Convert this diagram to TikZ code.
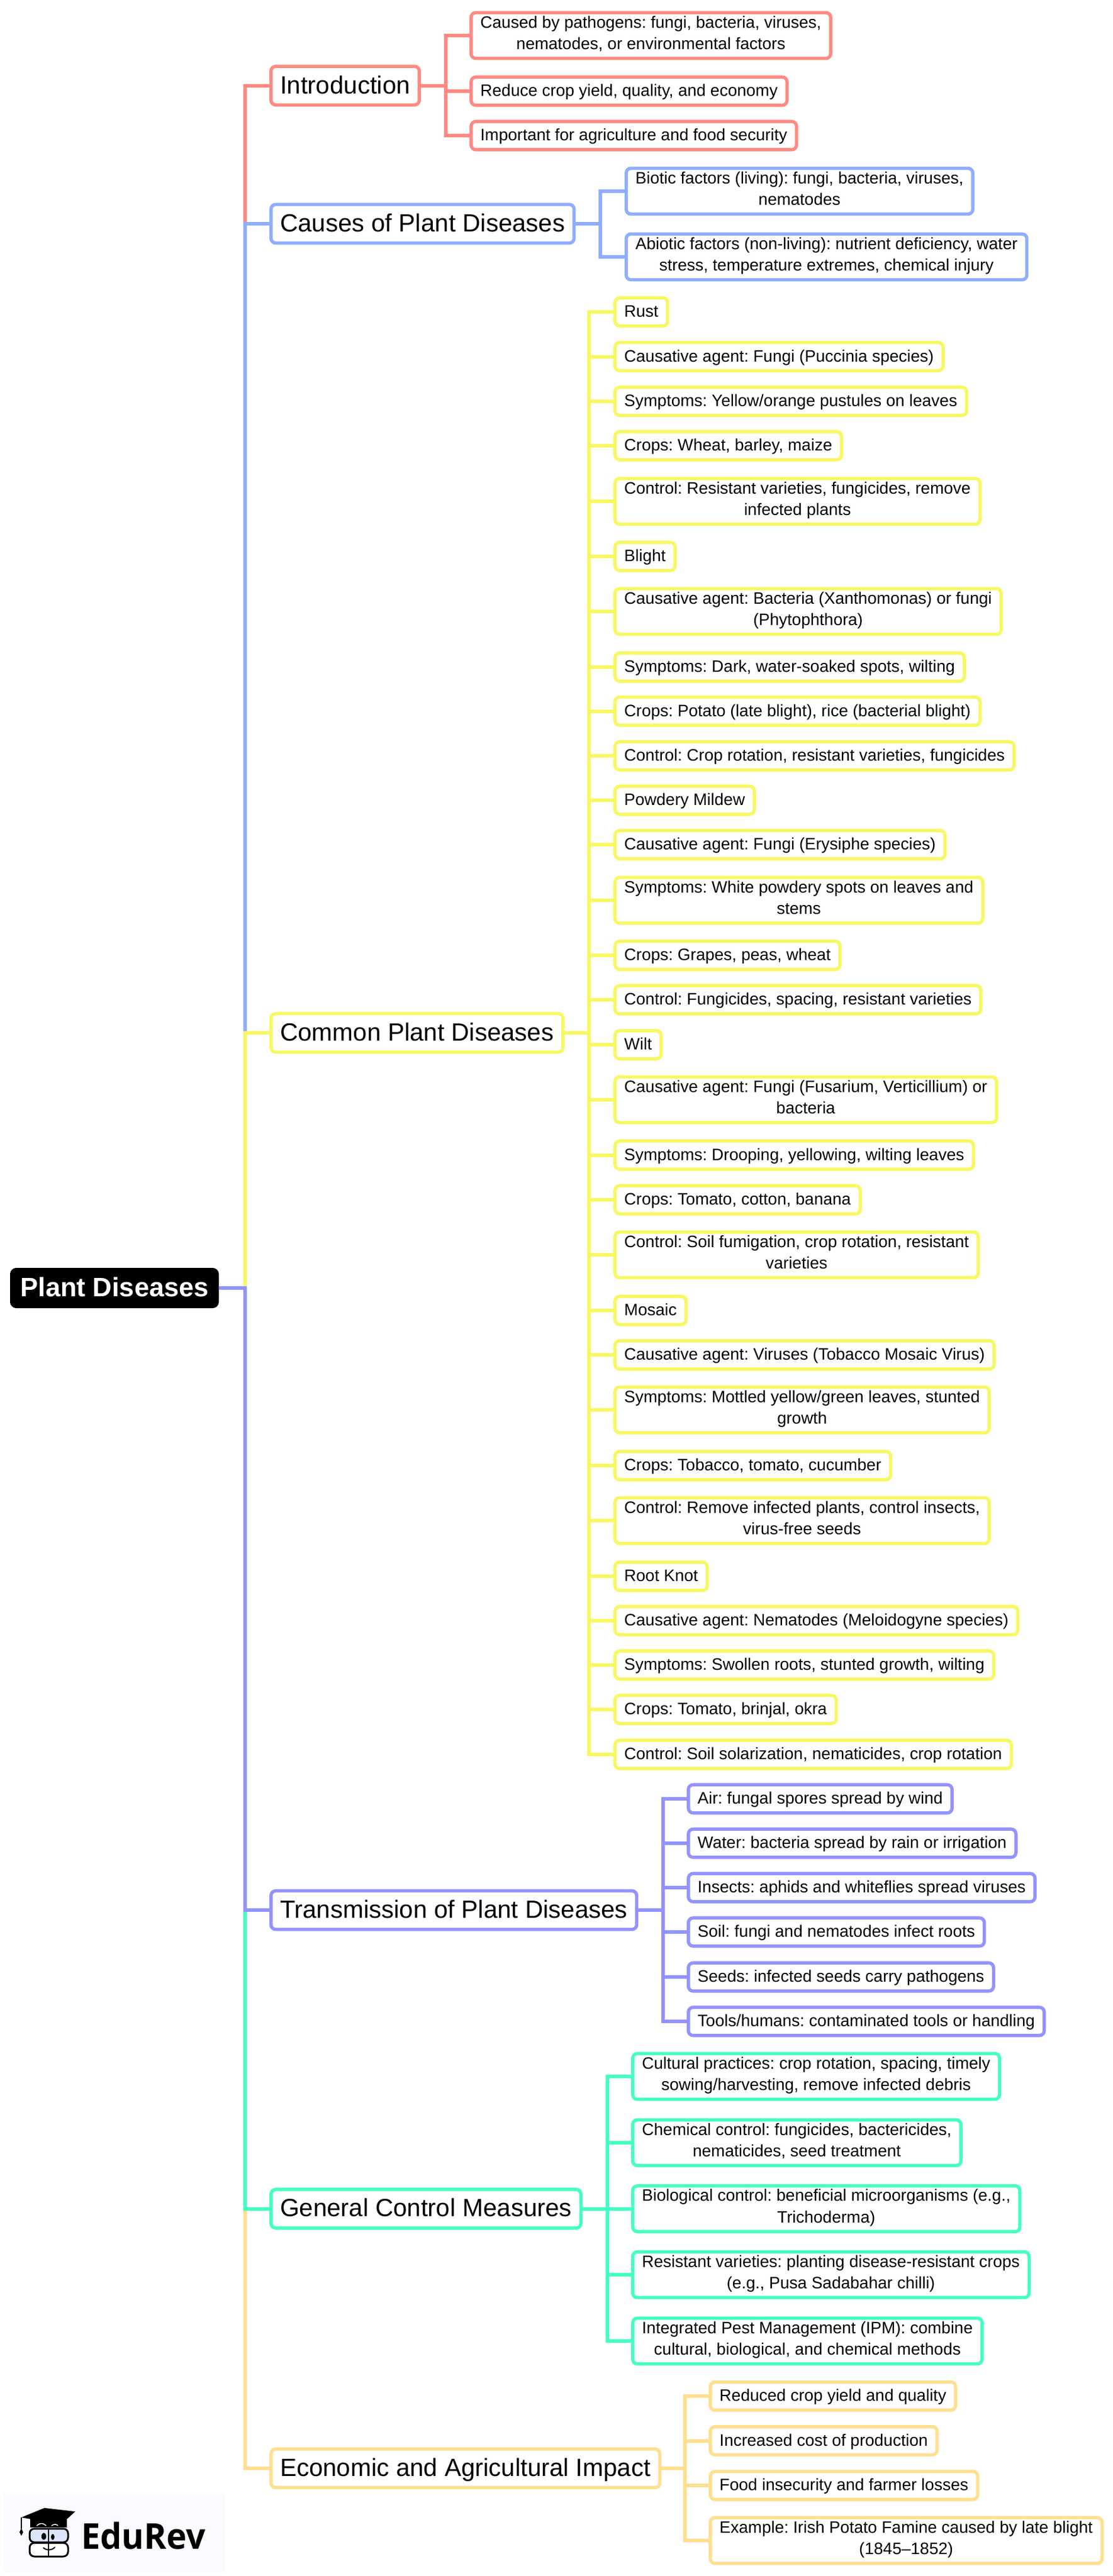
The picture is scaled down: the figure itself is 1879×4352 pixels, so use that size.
\documentclass[tikz,border=0pt]{standalone}
\usepackage{fontspec}
\setmainfont{Liberation Sans}
\newfontfamily\logofont{Open Sans}
\frenchspacing
\definecolor{redline}{HTML}{FF8A82}
\definecolor{blueline}{HTML}{8FAEFF}
\definecolor{yellowline}{HTML}{F8F862}
\definecolor{purpleline}{HTML}{9393FF}
\definecolor{tealline}{HTML}{44FFC4}
\definecolor{orangeline}{HTML}{FFDF90}
\definecolor{logoback}{HTML}{FAFAFF}
\definecolor{logoglass}{HTML}{DCE6FA}
\newcommand{\rootstrut}{\rule[-10.3pt]{0pt}{50pt}}
\newcommand{\topicstrut}{\rule[-11.7pt]{0pt}{50pt}}
\newcommand{\leafstrut}{\rule[-9.5pt]{0pt}{36.4pt}}
\tikzset{
    rootbox/.style={draw=black, fill=black, text=white, line width=1pt, rounded corners=10pt,
        anchor=west, align=center, inner xsep=17pt, inner ysep=8.5pt,
        font=\fontsize{45}{50}\selectfont\bfseries,
        execute at begin node=\rootstrut, execute at end node=\rootstrut},
    topicbox/.style={draw=#1, fill=white, line width=5.5pt, rounded corners=8pt,
        anchor=west, align=center, inner xsep=15.5pt, inner ysep=7.6pt,
        font=\fontsize{42}{50}\selectfont,
        execute at begin node=\topicstrut, execute at end node=\topicstrut},
    leafbox/.style={draw=#1, fill=white, line width=5.5pt, rounded corners=8pt,
        anchor=west, align=center, inner xsep=15.7pt, inner ysep=5.6pt,
        font=\fontsize{28}{36.4}\selectfont,
        execute at begin node=\leafstrut, execute at end node=\leafstrut},
    branch/.style={draw=#1, line width=6pt}
}
\begin{document}
\begin{tikzpicture}[x=1pt, y=-1pt]
    \useasboundingbox (0,0) rectangle (1879,4352);

    % root and main topics
    \node[rootbox] (root) at (17,2176) {Plant Diseases};
    \node[topicbox=redline] (intro) at (455,144.7) {Introduction};
    \node[topicbox=blueline] (causes) at (455,378) {Causes of Plant Diseases};
    \node[topicbox=yellowline] (common) at (455,1745) {Common Plant Diseases};
    \node[topicbox=purpleline] (transmission) at (455,3227) {Transmission of Plant Diseases};
    \node[topicbox=tealline] (control) at (455,3731.5) {General Control Measures};
    \node[topicbox=orangeline] (impact) at (455,4170) {Economic and Agricultural Impact};

    \coordinate (rootbus) at (414,2176);
    \coordinate (introbus) at (752.5,144.7);
    \coordinate (causesbus) at (1014,378);
    \coordinate (commonbus) at (995,1745);
    \coordinate (transmissionbus) at (1120,3227);
    \coordinate (controlbus) at (1026,3731.5);
    \coordinate (impactbus) at (1157,4170);

    % Introduction
    \node[leafbox=redline] (intro1) at (793,60) {Caused by pathogens: fungi, bacteria, viruses,\\nematodes, or environmental factors};
    \node[leafbox=redline] (intro2) at (793,154) {Reduce crop yield, quality, and economy};
    \node[leafbox=redline] (intro3) at (793,229) {Important for agriculture and food security};

    % Causes
    \node[leafbox=blueline] (causes1) at (1055,323) {Biotic factors (living): fungi, bacteria, viruses,\\nematodes};
    \node[leafbox=blueline] (causes2) at (1055,434) {Abiotic factors (non-living): nutrient deficiency, water\\stress, temperature extremes, chemical injury};

    % Common diseases
    \node[leafbox=yellowline] (common1) at (1036,527) {Rust};
    \node[leafbox=yellowline] (common2) at (1036,602.5) {Causative agent: Fungi (Puccinia species)};
    \node[leafbox=yellowline] (common3) at (1036,678) {Symptoms: Yellow/orange pustules on leaves};
    \node[leafbox=yellowline] (common4) at (1036,753) {Crops: Wheat, barley, maize};
    \node[leafbox=yellowline] (common5) at (1036,847) {Control: Resistant varieties, fungicides, remove\\infected plants};
    \node[leafbox=yellowline] (common6) at (1036,940) {Blight};
    \node[leafbox=yellowline] (common7) at (1036,1033) {Causative agent: Bacteria (Xanthomonas) or fungi\\(Phytophthora)};
    \node[leafbox=yellowline] (common8) at (1036,1127) {Symptoms: Dark, water-soaked spots, wilting};
    \node[leafbox=yellowline] (common9) at (1036,1201.5) {Crops: Potato (late blight), rice (bacterial blight)};
    \node[leafbox=yellowline] (common10) at (1036,1277) {Control: Crop rotation, resistant varieties, fungicides};
    \node[leafbox=yellowline] (common11) at (1036,1352) {Powdery Mildew};
    \node[leafbox=yellowline] (common12) at (1036,1427) {Causative agent: Fungi (Erysiphe species)};
    \node[leafbox=yellowline] (common13) at (1036,1521) {Symptoms: White powdery spots on leaves and\\stems};
    \node[leafbox=yellowline] (common14) at (1036,1614) {Crops: Grapes, peas, wheat};
    \node[leafbox=yellowline] (common15) at (1036,1689) {Control: Fungicides, spacing, resistant varieties};
    \node[leafbox=yellowline] (common16) at (1036,1765) {Wilt};
    \node[leafbox=yellowline] (common17) at (1036,1858) {Causative agent: Fungi (Fusarium, Verticillium) or\\bacteria};
    \node[leafbox=yellowline] (common18) at (1036,1951.5) {Symptoms: Drooping, yellowing, wilting leaves};
    \node[leafbox=yellowline] (common19) at (1036,2027) {Crops: Tomato, cotton, banana};
    \node[leafbox=yellowline] (common20) at (1036,2120) {Control: Soil fumigation, crop rotation, resistant\\varieties};
    \node[leafbox=yellowline] (common21) at (1036,2214) {Mosaic};
    \node[leafbox=yellowline] (common22) at (1036,2289) {Causative agent: Viruses (Tobacco Mosaic Virus)};
    \node[leafbox=yellowline] (common23) at (1036,2382) {Symptoms: Mottled yellow/green leaves, stunted\\growth};
    \node[leafbox=yellowline] (common24) at (1036,2476) {Crops: Tobacco, tomato, cucumber};
    \node[leafbox=yellowline] (common25) at (1036,2569) {Control: Remove infected plants, control insects,\\virus-free seeds};
    \node[leafbox=yellowline] (common26) at (1036,2663) {Root Knot};
    \node[leafbox=yellowline] (common27) at (1036,2738) {Causative agent: Nematodes (Meloidogyne species)};
    \node[leafbox=yellowline] (common28) at (1036,2813) {Symptoms: Swollen roots, stunted growth, wilting};
    \node[leafbox=yellowline] (common29) at (1036,2888) {Crops: Tomato, brinjal, okra};
    \node[leafbox=yellowline] (common30) at (1036,2964) {Control: Soil solarization, nematicides, crop rotation};

    % Transmission
    \node[leafbox=purpleline] (transmission1) at (1160,3039) {Air: fungal spores spread by wind};
    \node[leafbox=purpleline] (transmission2) at (1160,3114) {Water: bacteria spread by rain or irrigation};
    \node[leafbox=purpleline] (transmission3) at (1160,3189) {Insects: aphids and whiteflies spread viruses};
    \node[leafbox=purpleline] (transmission4) at (1160,3264) {Soil: fungi and nematodes infect roots};
    \node[leafbox=purpleline] (transmission5) at (1160,3340) {Seeds: infected seeds carry pathogens};
    \node[leafbox=purpleline] (transmission6) at (1160,3415) {Tools/humans: contaminated tools or handling};

    % Control
    \node[leafbox=tealline] (control1) at (1066,3508) {Cultural practices: crop rotation, spacing, timely\\sowing/harvesting, remove infected debris};
    \node[leafbox=tealline] (control2) at (1066,3620) {Chemical control: fungicides, bactericides,\\nematicides, seed treatment};
    \node[leafbox=tealline] (control3) at (1066,3731.5) {Biological control: beneficial microorganisms (e.g.,\\Trichoderma)};
    \node[leafbox=tealline] (control4) at (1066,3843) {Resistant varieties: planting disease-resistant crops\\(e.g., Pusa Sadabahar chilli)};
    \node[leafbox=tealline] (control5) at (1066,3955) {Integrated Pest Management (IPM): combine\\cultural, biological, and chemical methods};

    % Impact
    \node[leafbox=orangeline] (impact1) at (1197,4048) {Reduced crop yield and quality};
    \node[leafbox=orangeline] (impact2) at (1197,4123.5) {Increased cost of production};
    \node[leafbox=orangeline] (impact3) at (1197,4199) {Food insecurity and farmer losses};
    \node[leafbox=orangeline] (impact4) at (1197,4292) {Example: Irish Potato Famine caused by late blight\\(1845--1852)};

    % connectors, drawn so that each colour stops at its own topic
    \draw[branch=redline] (root.east) -- (rootbus) |- (intro.west);
    \draw[branch=blueline] (root.east) -- (rootbus) |- (causes.west);
    \draw[branch=yellowline] (root.east) -- (rootbus) |- (common.west);
    \draw[branch=orangeline] (root.east) -- (rootbus) |- (impact.west);
    \draw[branch=tealline] (root.east) -- (rootbus) |- (control.west);
    \draw[branch=purpleline] (root.east) -- (rootbus) |- (transmission.west);

    \draw[branch=redline] (intro.east) -- (introbus)
        (introbus) |- (intro1.west) (introbus) |- (intro2.west) (introbus) |- (intro3.west);
    \draw[branch=blueline] (causes.east) -- (causesbus)
        (causesbus) |- (causes1.west) (causesbus) |- (causes2.west);
    \draw[branch=yellowline] (common.east) -- (commonbus)
        (commonbus) |- (common1.west) (commonbus) |- (common2.west) (commonbus) |- (common3.west)
        (commonbus) |- (common4.west) (commonbus) |- (common5.west) (commonbus) |- (common6.west)
        (commonbus) |- (common7.west) (commonbus) |- (common8.west) (commonbus) |- (common9.west)
        (commonbus) |- (common10.west) (commonbus) |- (common11.west) (commonbus) |- (common12.west)
        (commonbus) |- (common13.west) (commonbus) |- (common14.west) (commonbus) |- (common15.west)
        (commonbus) |- (common16.west) (commonbus) |- (common17.west) (commonbus) |- (common18.west)
        (commonbus) |- (common19.west) (commonbus) |- (common20.west) (commonbus) |- (common21.west)
        (commonbus) |- (common22.west) (commonbus) |- (common23.west) (commonbus) |- (common24.west)
        (commonbus) |- (common25.west) (commonbus) |- (common26.west) (commonbus) |- (common27.west)
        (commonbus) |- (common28.west) (commonbus) |- (common29.west) (commonbus) |- (common30.west);
    \draw[branch=purpleline] (transmission.east) -- (transmissionbus)
        (transmissionbus) |- (transmission1.west) (transmissionbus) |- (transmission2.west)
        (transmissionbus) |- (transmission3.west) (transmissionbus) |- (transmission4.west)
        (transmissionbus) |- (transmission5.west) (transmissionbus) |- (transmission6.west);
    \draw[branch=tealline] (control.east) -- (controlbus)
        (controlbus) |- (control1.west) (controlbus) |- (control2.west) (controlbus) |- (control3.west)
        (controlbus) |- (control4.west) (controlbus) |- (control5.west);
    \draw[branch=orangeline] (impact.east) -- (impactbus)
        (impactbus) |- (impact1.west) (impactbus) |- (impact2.west)
        (impactbus) |- (impact3.west) (impactbus) |- (impact4.west);

    % logo
    \fill[logoback] (5,4212) rectangle (380,4345);
    \node[anchor=west, inner sep=0pt, font=\fontsize{60}{60}\logofont\bfseries] (logotext) at (137,4284) {\scalebox{.96}[1]{EduRev}};
    \draw[black, line width=3pt, fill=logoglass, rounded corners=8pt] (50,4272) rectangle (115,4295);
    \draw[black, line width=3pt, fill=white, rounded corners=8pt] (50,4296) rectangle (115,4319);
    \draw[black, line width=2.5pt] (82,4271) -- (82,4320);
    \fill[black] (51,4255) rectangle (113,4270);
    \fill[black] (36,4253) -- (75,4237) -- (127,4243) -- (103,4265) -- cycle;
    \draw[black, line width=1.5pt] (36,4253) -- (36,4272);
    \fill[black] (36,4271) -- (39,4278) -- (36,4284) -- (33,4278) -- cycle;
    \draw[white, line width=1.5pt] (62,4267) .. controls (67,4262) and (73,4262) .. (78,4267);
    \draw[white, line width=1.5pt] (87,4267) .. controls (91,4264) and (95,4264) .. (98,4267);
    \fill[black] (74,4285) ellipse (4pt and 6pt);
    \fill[black] (89,4286) ellipse (3pt and 5pt);
    \draw[black, line width=2pt] (73,4304) .. controls (78,4309) and (88,4309) .. (93,4303);
\end{tikzpicture}
\end{document}
